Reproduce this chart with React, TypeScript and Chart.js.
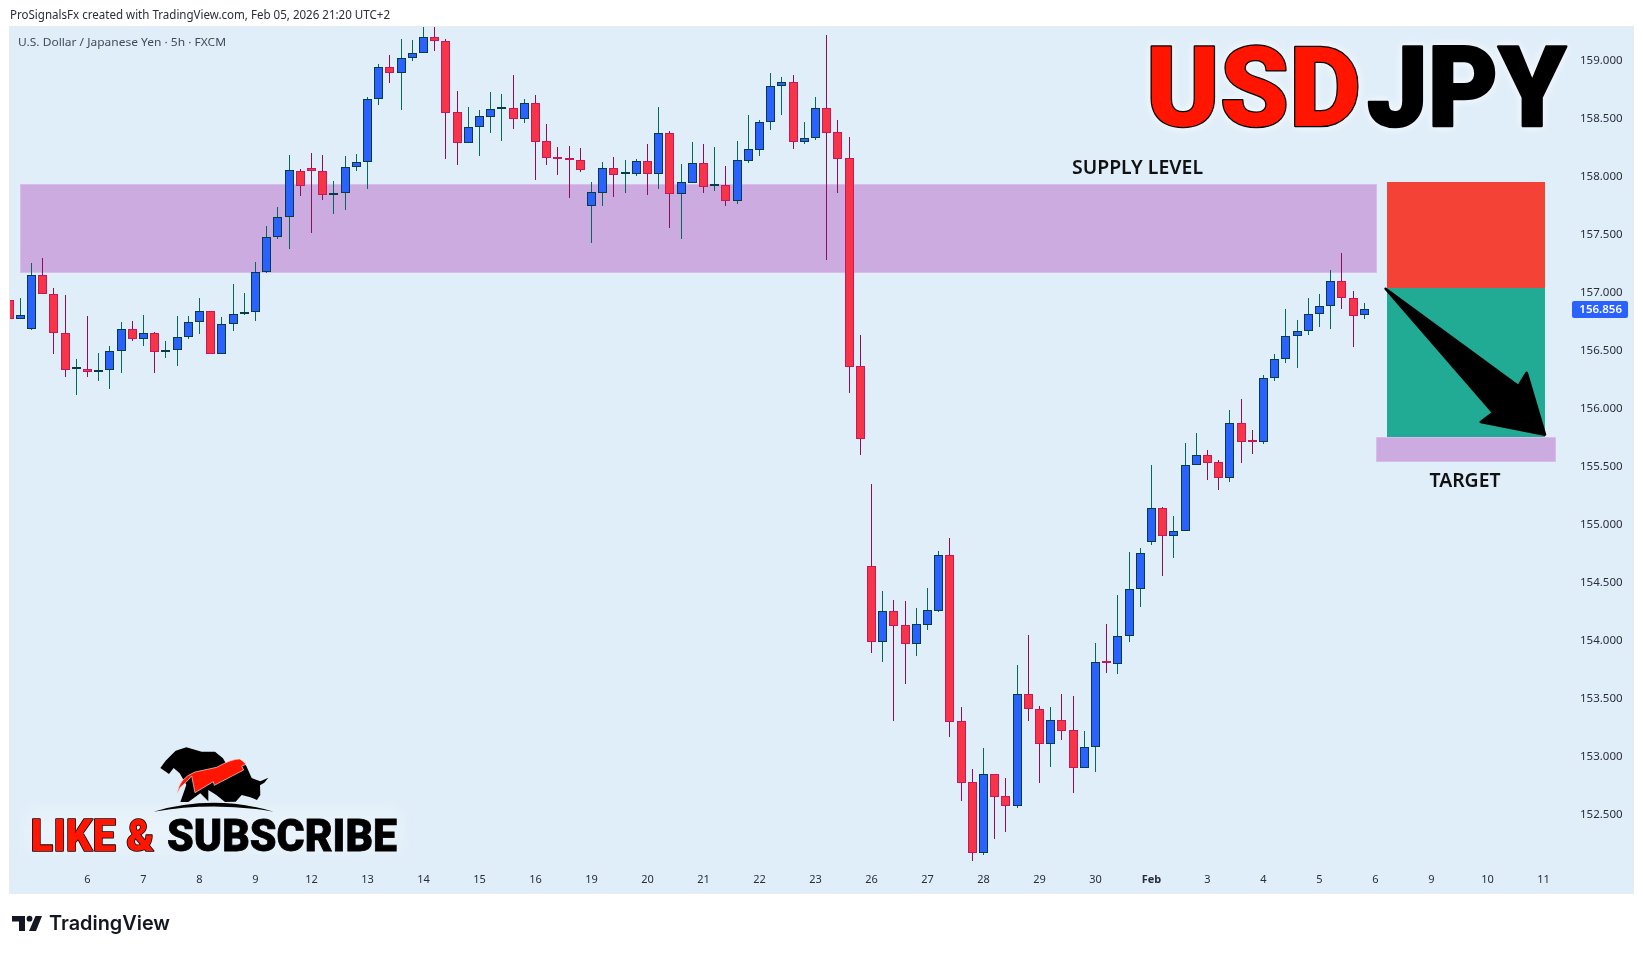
import React, { useEffect, useRef } from "react";
import { Chart, registerables } from "chart.js";

Chart.register(...registerables);

const opens = [156.94,156.77,156.69,157.15,156.986,156.65,156.34,156.34,156.313,156.33,156.494,156.69,156.6,156.65,156.486,156.51,156.615,156.744,156.84,156.47,156.727,156.813,156.83,157.175,157.477,157.65,158.046,158.072,158.046,157.839,157.856,158.08,158.124,158.667,158.943,158.89,159.02,159.063,159.2,159.167,158.555,158.293,158.425,158.517,158.58,158.589,158.5,158.632,158.305,158.167,158.15,158.14,157.75,157.862,158.072,158.02,158.026,158.132,158.026,158.374,157.853,157.948,158.115,157.92,157.925,157.793,158.138,158.233,158.468,158.779,158.813,158.3,158.33,158.589,158.382,158.158,156.365,154.641,153.992,154.253,154.132,153.974,154.138,154.259,154.736,153.305,152.779,152.173,152.848,152.658,152.578,153.538,153.408,153.112,153.314,153.227,152.905,153.081,153.816,153.802,154.038,154.443,154.848,155.141,154.905,154.943,155.511,155.597,155.537,155.399,155.873,155.717,155.71,156.261,156.425,156.623,156.666,156.813,156.882,157.097,156.951,156.804];
const highs = [156.94,156.954,157.256,157.3,157.04,156.98,156.43,156.8,156.48,156.54,156.747,156.755,156.81,156.66,156.58,156.8,156.8,156.954,156.84,156.79,157.075,157.0,157.264,157.575,157.74,158.187,158.066,158.204,158.187,157.963,158.178,158.195,158.684,158.97,159.05,159.187,159.178,159.32,159.32,159.184,158.738,158.6,158.575,158.73,158.71,158.876,158.67,158.704,158.454,158.256,158.264,158.247,157.954,158.126,158.17,158.144,158.152,158.282,158.6,158.394,158.109,158.3,158.282,158.256,158.092,158.307,158.532,158.489,158.894,158.859,158.876,158.471,158.687,159.221,158.489,158.342,156.635,155.351,154.428,154.351,154.342,154.282,154.454,154.773,154.885,153.428,152.894,153.075,152.848,152.816,153.791,154.049,153.437,153.428,153.541,153.523,153.222,153.98,154.144,154.394,154.765,154.799,155.515,155.155,155.075,155.704,155.79,155.643,155.554,155.989,156.083,155.816,156.29,156.468,156.859,156.764,156.954,156.988,157.195,157.342,157.014,156.911];
const lows = [156.77,156.77,156.68,156.986,156.474,156.276,156.12,156.276,156.24,156.17,156.31,156.58,156.54,156.31,156.44,156.37,156.6,156.647,156.47,156.47,156.67,156.805,156.76,157.167,157.465,157.38,157.836,157.517,157.8,157.68,157.716,158.05,157.897,158.62,158.807,158.578,159.0,159.063,159.083,158.155,158.103,158.293,158.18,158.38,158.31,158.414,158.466,157.974,158.103,158.017,157.819,158.043,157.431,157.75,157.828,157.862,158.009,157.845,157.897,157.56,157.466,157.948,157.862,157.879,157.75,157.767,158.121,158.181,158.405,158.532,158.241,158.284,158.319,157.284,157.862,156.138,155.603,153.897,153.819,153.311,153.63,153.871,154.092,154.247,153.173,152.621,152.104,152.155,152.293,152.354,152.561,153.311,152.776,152.914,153.147,152.69,152.905,152.871,153.724,153.716,153.992,154.293,154.828,154.561,154.716,154.943,155.511,155.388,155.302,155.37,155.534,155.612,155.698,156.238,156.396,156.353,156.638,156.704,156.687,156.859,156.534,156.776];
const closes = [156.77,156.805,157.15,156.986,156.65,156.33,156.34,156.313,156.33,156.494,156.69,156.6,156.65,156.486,156.51,156.615,156.744,156.84,156.47,156.727,156.813,156.83,157.175,157.477,157.65,158.055,157.917,158.046,157.839,157.856,158.08,158.124,158.667,158.943,158.89,159.02,159.063,159.2,159.167,158.552,158.293,158.425,158.52,158.58,158.583,158.5,158.632,158.3,158.164,158.15,158.14,158.06,157.865,158.072,158.017,158.023,158.132,158.026,158.374,157.853,157.951,158.115,157.914,157.922,157.793,158.141,158.236,158.468,158.779,158.813,158.3,158.33,158.589,158.379,158.155,156.362,155.741,153.992,154.253,154.13,153.974,154.141,154.262,154.736,153.302,152.776,152.173,152.848,152.656,152.578,153.538,153.408,153.112,153.314,153.224,152.905,153.081,153.814,153.812,154.038,154.443,154.753,155.141,154.905,154.943,155.512,155.597,155.534,155.399,155.873,155.715,155.713,156.261,156.425,156.623,156.666,156.813,156.882,157.097,156.951,156.801,156.856];

const timeLabels = ["6","7","8","9","12","13","14","15","16","19","20","21","22","23","26","27","28","29","30","Feb","3","4","5","6","9","10","11"];
const timeTickBars = [7,12,17,22,27,32,37,42,47,52,57,62,67,72,77,82,87,92,97,102,107,112,117,122,127,132,137];
const priceTicks = [152.5,153,153.5,154,154.5,155,155.5,156,156.5,157,157.5,158,158.5,159];

const supplyBars = [0.97, 122.14];
const supplyPrices = [157.934, 157.167];
const targetBars = [122.05, 138.1];
const targetPrices = [155.754, 155.538];
const riskBars = [123.0, 137.14];
const riskPrices = [157.954, 157.038];
const rewardPrices = [157.038, 155.76];
const arrowBars = [122.9, 134.75, 135.5, 137.14, 131.4, 132.5];
const arrowPrices = [157.034, 156.195, 156.31, 155.776, 155.885, 155.965];

const UP_FILL = "#2962ff";
const UP_EDGE = "#063c43";
const UP_WICK = "#00695c";
const DOWN_FILL = "#f73548";
const DOWN_EDGE = "#c8175a";
const DOWN_WICK = "#8b0f55";
const BG = "#e0eef9";
const TV_FONT = '"Noto Sans", "Open Sans", sans-serif';

const isUp = opens.map((o, i) => closes[i] >= o);

const snapBars = {
  id: "snapBars",
  afterDatasetsUpdate(chart: any) {
    chart.data.datasets.forEach((_: any, d: number) => {
      chart.getDatasetMeta(d).data.forEach((el: any) => {
        el.x = Math.floor(el.x) + 0.5;
        el.y = Math.round(el.y);
        el.base = Math.round(el.base);
      });
    });
  },
};

const drawings = {
  id: "drawings",
  beforeDatasetsDraw(chart: any) {
    const { ctx, scales } = chart;
    const X = (v: number) => scales.x.getPixelForValue(v);
    const Y = (v: number) => scales.y.getPixelForValue(v);
    const box = (bars: number[], prices: number[], fill: string, edge?: string) => {
      const l = Math.round(X(bars[0]));
      const r = Math.round(X(bars[1]));
      const t = Math.round(Y(prices[0]));
      const b = Math.round(Y(prices[1]));
      ctx.fillStyle = fill;
      ctx.fillRect(l, t, r - l, b - t);
      if (edge) {
        ctx.strokeStyle = edge;
        ctx.lineWidth = 1;
        ctx.strokeRect(l + 0.5, t + 0.5, r - l - 1, b - t - 1);
      }
    };
    box(supplyBars, supplyPrices, "#ccace0", "#d9bbee");
    box(targetBars, targetPrices, "#ccace0", "#d9bbee");
    box(riskBars, riskPrices, "#f44336");
    box(riskBars, rewardPrices, "#22ab94");
  },
  afterDatasetsDraw(chart: any) {
    const { ctx, scales } = chart;
    ctx.save();
    ctx.beginPath();
    arrowBars.forEach((b, i) => {
      const x = scales.x.getPixelForValue(b);
      const y = scales.y.getPixelForValue(arrowPrices[i]);
      if (i === 0) ctx.moveTo(x, y);
      else ctx.lineTo(x, y);
    });
    ctx.closePath();
    ctx.fillStyle = "#000";
    ctx.strokeStyle = "#000";
    ctx.lineWidth = 2.5;
    ctx.lineJoin = "round";
    ctx.fill();
    ctx.stroke();
    ctx.restore();
  },
  afterDraw(chart: any) {
    const { ctx, scales } = chart;
    const last = closes[closes.length - 1];
    const y = Math.round(scales.y.getPixelForValue(last));
    ctx.save();
    ctx.fillStyle = UP_FILL;
    ctx.beginPath();
    ctx.roundRect(1562, y - 8, 56, 17, 2);
    ctx.fill();
    ctx.fillStyle = "#fff";
    ctx.font = `600 11.5px ${TV_FONT}`;
    ctx.textAlign = "right";
    ctx.textBaseline = "middle";
    ctx.fillText(last.toFixed(3), 1612, y + 0.5);
    ctx.restore();
  },
};

export default function App() {
  const ref = useRef<HTMLCanvasElement | null>(null);
  useEffect(() => {
    if (!ref.current) return;
    const chart = new Chart(ref.current, {
      type: "bar",
      data: {
        datasets: [
          {
            label: "Body",
            data: opens.map((o, i) => ({ x: i, y: [o, closes[i]] })),
            backgroundColor: isUp.map((u) => (u ? UP_FILL : DOWN_FILL)),
            borderColor: isUp.map((u) => (u ? UP_EDGE : DOWN_EDGE)),
            borderWidth: 1,
            borderSkipped: false,
            barThickness: 9,
            minBarLength: 2,
            inflateAmount: 0,
          },
          {
            label: "Wick",
            data: highs.map((h, i) => ({ x: i, y: [lows[i], h] })),
            backgroundColor: isUp.map((u) => (u ? UP_WICK : DOWN_WICK)),
            borderWidth: 0,
            barThickness: 1,
            inflateAmount: 0,
          },
        ],
      } as any,
      plugins: [snapBars, drawings],
      options: {
        animation: false,
        responsive: false,
        maintainAspectRatio: false,
        devicePixelRatio: 1,
        layout: { padding: 0 },
        datasets: { bar: { grouped: false } },
        plugins: { legend: { display: false }, tooltip: { enabled: false }, title: { display: false } },
        scales: {
          x: {
            type: "linear",
            offset: false,
            min: 0.08,
            max: 139.19,
            grid: { display: false, drawTicks: false },
            border: { display: false },
            afterBuildTicks: (s: any) => {
              s.ticks = timeTickBars.map((value) => ({ value }));
            },
            afterFit: (s: any) => {
              s.height = 27;
              s.paddingLeft = 0;
              s.paddingRight = 0;
            },
            ticks: {
              autoSkip: false,
              maxRotation: 0,
              padding: 7,
              color: "#2a2e39",
              font: (c: any) => ({
                family: TV_FONT,
                size: 11,
                weight: c.tick && c.tick.value === 102 ? "700" : "400",
              }),
              callback: (v: any) => timeLabels[timeTickBars.indexOf(Number(v))] ?? "",
            },
          },
          y: {
            position: "right",
            min: 152.058,
            max: 159.29,
            grid: { display: false, drawTicks: false },
            border: { display: false },
            afterBuildTicks: (s: any) => {
              s.ticks = priceTicks.map((value) => ({ value }));
            },
            afterFit: (s: any) => {
              s.width = 65;
              s.paddingTop = 0;
              s.paddingBottom = 0;
            },
            ticks: {
              padding: 12,
              color: "#2a2e39",
              font: { family: TV_FONT, size: 11.5 },
              callback: (v: any) => Number(v).toFixed(3),
            },
          },
        },
      } as any,
    });
    return () => chart.destroy();
  }, []);

  return (
    <div style={{ position: "absolute", left: 0, top: 0, width: 1643, height: 954, background: "#fff", overflow: "hidden" }}>
      <div style={{ position: "absolute", left: 9, top: 26, width: 1623, height: 866, border: "1px solid #e8ebef", background: BG }} />
      <canvas ref={ref} width={1623} height={866} style={{ position: "absolute", left: 10, top: 27, width: 1623, height: 866 }} />
      <svg width={1643} height={954} style={{ position: "absolute", left: 0, top: 0, pointerEvents: "none" }}>
        <defs>
          <filter id="soft" x="-10%" y="-30%" width="120%" height="160%">
            <feGaussianBlur stdDeviation="8" />
          </filter>
        </defs>
        <text x={10} y={19} fontFamily={TV_FONT} fontSize={12} fill="#2a2e39" textLength={380} lengthAdjust="spacingAndGlyphs">ProSignalsFx created with TradingView.com, Feb 05, 2026 21:20 UTC+2</text>
        <text x={18} y={46} fontFamily={TV_FONT} fontSize={11.5} fill="#434a5a" textLength={208} lengthAdjust="spacingAndGlyphs">U.S. Dollar / Japanese Yen · 5h · FXCM</text>

        <g style={{ filter: "drop-shadow(0 0 5px rgba(255,255,255,0.9))" }} fontFamily="Roboto, Lato, sans-serif" fontWeight={900} fontSize={112}>
          <text x={1146} y={126} fill="#ff1500" stroke="#000" strokeWidth={2.5} strokeLinejoin="round" style={{ paintOrder: "stroke" }} textLength={215} lengthAdjust="spacingAndGlyphs">USD</text>
          <text x={1367} y={126} fill="#000" stroke="#000" strokeWidth={2.5} strokeLinejoin="round" textLength={199} lengthAdjust="spacingAndGlyphs">JPY</text>
        </g>

        <text x={1072} y={173.5} fontFamily={TV_FONT} fontSize={19} fontWeight={600} fill="#111" textLength={131} lengthAdjust="spacingAndGlyphs">SUPPLY LEVEL</text>
        <text x={1429.5} y={487} fontFamily={TV_FONT} fontSize={19} fontWeight={600} fill="#111" textLength={71} lengthAdjust="spacingAndGlyphs">TARGET</text>

        <rect x={26} y={808} width={375} height={44} fill="#f2f8fd" opacity={0.45} filter="url(#soft)" />
        <g transform="translate(145 740) scale(0.3333)">
          <path d="M46 84 L62 62 L76 48 L92 32 L124 22 L170 35 L210 35 L234 55 L246 76 L292 62 L304 78 L320 114 L346 124 L370 113 L358 128 L345 136 L346 165 L336 180 L316 172 L290 165 L272 185 L240 186 L214 165 L190 150 L190 184 L166 160 L130 186 L106 186 L118 152 L124 134 L104 100 L86 84 L72 102 L58 92 Z" fill="#000" />
          <path d="M26 215 Q205 162 386 215 Q205 184 26 215 Z" fill="#000" />
          <path d="M97 162 Q100 116 150 96 L215 82 Q260 56 285 57 L304 73 L290 78 L296 90 L208 136 L205 125 L150 158 L140 108 L124 126 L106 142 Z" fill="#ff1500" stroke="#f5e8e8" strokeWidth={2} />
        </g>
        <g fontFamily="Roboto, Lato, sans-serif" fontWeight={900} fontSize={45}>
          <text x={30.5} y={851} fill="#ff1500" stroke="#000" strokeWidth={1.6} strokeLinejoin="round" style={{ paintOrder: "stroke" }} textLength={124} lengthAdjust="spacingAndGlyphs">LIKE &amp;</text>
          <text x={167} y={851} fill="#000" stroke="#000" strokeWidth={0.8} textLength={230} lengthAdjust="spacingAndGlyphs">SUBSCRIBE</text>
        </g>

        <g fill="#131722">
          <path d="M12 916 H25 V931 H19 V921.5 H12 Z" />
          <circle cx={29.5} cy={918.7} r={2.9} />
          <path d="M35.5 916 H42 L36 931 H29 Z" />
        </g>
        <text x={49} y={930} fontFamily="Inter, Roboto, sans-serif" fontSize={20} fontWeight={600} fill="#131722" textLength={121} lengthAdjust="spacingAndGlyphs">TradingView</text>
      </svg>
    </div>
  );
}
